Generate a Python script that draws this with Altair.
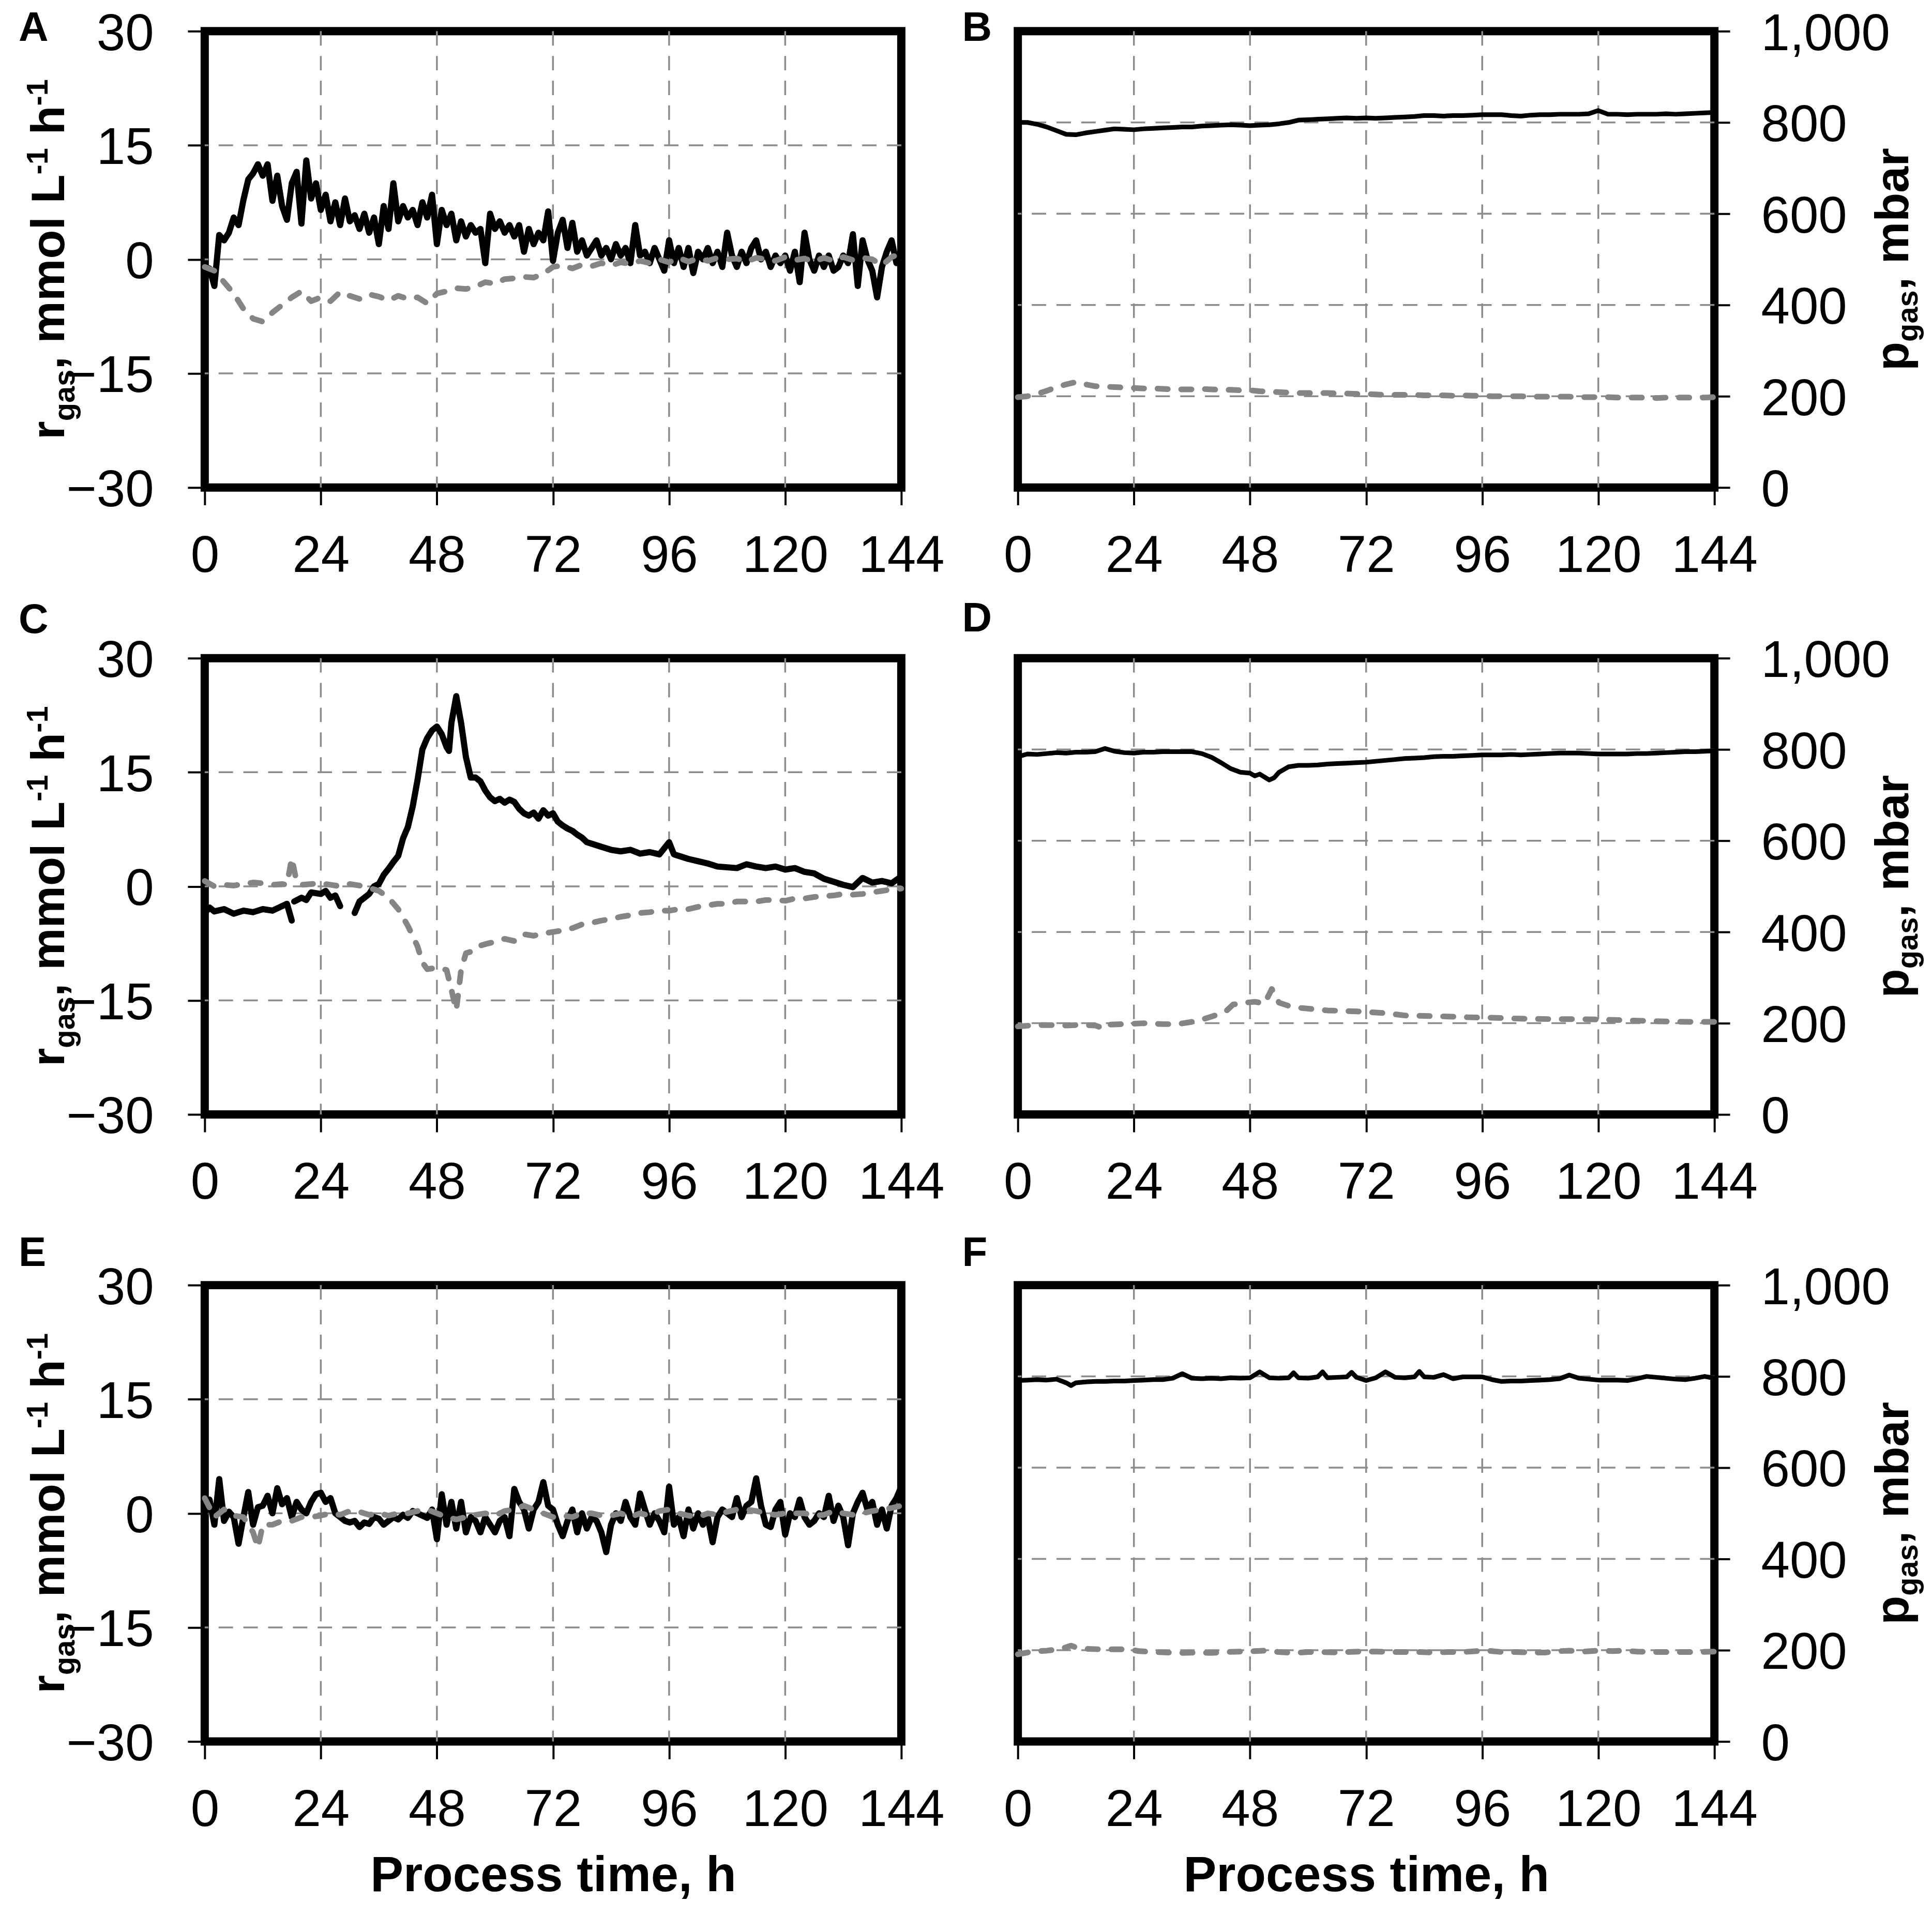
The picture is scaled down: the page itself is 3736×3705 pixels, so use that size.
import altair as alt
import pandas as pd

# ---------------- data ----------------
T1 = list(range(0, 145))          # 1 h spacing
T2 = list(range(0, 145, 2))       # 2 h spacing

XTICKS = [0, 24, 48, 72, 96, 120, 144]
XGRID = [24, 48, 72, 96, 120]
R_TICKS = [-30, -15, 0, 15, 30]
R_GRID = [-15, 0, 15]
P_TICKS = [0, 200, 400, 600, 800, 1000]
P_GRID = [200, 400, 600, 800]

# Panel A  (r_gas, mmol L-1 h-1)
A_BLACK = [-1.0, -1.2, -3.5, 3.2, 2.5, 3.5, 5.5, 4.5, 7.8, 10.5,
           11.3, 12.5, 11.0, 12.5, 7.7, 11.0, 7.0, 5.2, 10.0, 11.5,
           4.7, 13.0, 8.0, 10.0, 6.5, 8.5, 5.0, 7.5, 4.5, 8.0,
           5.0, 5.8, 4.0, 6.0, 3.5, 5.5, 2.0, 7.0, 4.0, 10.0,
           5.0, 7.0, 5.5, 6.5, 4.5, 7.5, 5.5, 8.5, 2.0, 6.5,
           4.5, 6.0, 2.5, 5.0, 3.0, 4.5, 3.5, 4.0, -0.5, 6.0,
           4.0, 5.0, 3.5, 4.5, 3.0, 4.5, 1.0, 4.0, 2.0, 3.5,
           2.5, 6.3, -0.2, 3.5, 5.2, 1.5, 4.8, 1.0, 2.5, 0.5,
           1.5, 2.5, 0.5, 1.5, 0.0, 2.0, 0.5, 1.5, -0.5, 4.5,
           0.5, 1.0, -0.5, 1.5, 0.0, -1.5, 2.5, -0.5, 1.5, -1.0,
           1.5, -1.8, 1.0, 0.0, 1.5, -0.5, 1.0, -1.0, 3.5, 0.5,
           -1.0, 1.0, -0.5, 1.5, 2.5, 0.0, 1.0, -1.0, 0.5, -0.5,
           0.5, -1.5, 1.0, -3.0, 3.5, 0.0, -1.5, 0.5, -1.0, 0.5,
           -1.5, -1.0, 0.5, -0.5, 3.3, -3.5, 2.5, 0.0, -1.5, -5.0,
           -1.0, 1.0, 2.5, -0.5, 1.0]
A_GRAY = [-1.0, -1.5, -3.0, -4.5, -6.5, -7.8, -8.2, -7.0, -6.0, -5.0,
          -4.2, -5.5, -5.0, -5.5, -4.3, -4.8, -5.2, -4.6, -4.9, -5.4,
          -4.8, -5.2, -5.0, -5.8, -4.5, -4.2, -3.8, -3.9, -3.6, -3.0,
          -3.2, -2.6, -2.5, -2.3, -2.4, -1.9, -1.0, -0.8, -1.2, -0.7,
          -0.9, -0.5, -0.8, -0.4, -0.6, -0.2, -0.5, 0.0, -0.4, 0.2,
          -0.3, 0.1, -0.2, 0.2, 0.0, 0.1, -0.3, 0.2, 0.0, -0.2,
          0.3, -0.1, 0.1, -0.3, 0.2, -0.2, 0.3, -0.1, 0.2, 0.0,
          -0.8, 0.3, 0.8]

# Panel C
C_BLACK_T = [0, 1, 2, 4, 6, 8, 10, 12, 14, 16, 17, 18,
             18.5, 20, 21, 22, 24, 25, 26, 27, 28,
             31, 32, 33, 34, 35, 36, 37, 38, 39, 40, 41, 42, 43, 44, 45, 46, 47, 48, 49,
             50, 50.5, 51, 52, 53, 54, 55, 56, 57, 58, 59, 60, 61, 62, 63, 64, 65, 66,
             67, 68, 69, 70, 71, 72, 73, 74, 75, 76, 77, 78, 79, 80, 82, 84, 86, 88,
             90, 92, 94, 96, 97, 98, 100, 102, 104, 106, 108, 110, 112, 114, 116, 118,
             120, 122, 124, 126, 128, 130, 132, 134, 136, 138, 140, 142, 144]
C_BLACK = [-3.5, -2.8, -3.3, -3.0, -3.6, -3.2, -3.4, -3.0, -3.2, -2.6, -2.3, -4.5,
           -2.0, -1.5, -1.8, -0.8, -1.0, -0.6, -1.5, -1.2, -2.6,
           -3.5, -2.0, -1.5, -1.0, 0.0, 0.3, 1.5, 2.3, 3.2, 4.0, 6.3, 7.8, 10.5, 14.0, 18.0, 19.5, 20.5, 21.0, 20.0,
           18.3, 17.8, 21.5, 25.0, 21.5, 17.0, 14.3, 14.3, 13.8, 12.6, 11.7, 11.2, 11.5, 11.0, 11.4, 11.1, 10.2, 9.6,
           9.3, 9.7, 8.9, 10.0, 9.3, 9.6, 8.5, 8.0, 7.6, 7.3, 6.8, 6.4, 5.8, 5.6, 5.2, 4.8, 4.6, 4.8,
           4.3, 4.5, 4.2, 5.8, 4.2, 4.0, 3.6, 3.3, 3.0, 2.6, 2.5, 2.4, 2.9, 2.6, 2.4, 2.6,
           2.2, 2.4, 1.9, 1.7, 1.0, 0.6, 0.2, -0.1, 1.1, 0.5, 0.7, 0.4, 1.3]
C_BLACK_SEG = [0] * 12 + [1] * 9 + [2] * 84
C_GRAY_T = [0, 2, 4, 6, 8, 10, 12, 14, 16, 17, 18, 19, 20, 22, 24, 26, 28, 30, 32, 34,
            36, 38, 40, 42, 44, 45, 46, 48, 50, 51, 52, 53, 54, 56, 57, 58, 60, 62, 64, 66,
            68, 70, 72, 74, 76, 78, 80, 82, 84, 86, 88, 90, 92, 94, 96, 98, 100, 102, 104, 106,
            108, 110, 112, 114, 116, 118, 120, 122, 124, 126, 128, 130, 132, 134, 136, 138, 140, 142, 144]
C_GRAY = [0.7, 0.0, 0.2, 0.1, 0.3, 0.5, 0.4, 0.2, 0.3, 0.2, 3.7, 0.6, 0.2, 0.3, 0.4, 0.2, 0.0, 0.3, 0.1, -0.2,
          -0.6, -1.5, -3.0, -5.2, -7.9, -10.0, -10.9, -10.7, -11.0, -13.6, -16.3, -11.0, -8.8, -8.4, -7.8, -7.6, -7.3, -6.9, -7.2, -6.3,
          -6.5, -6.2, -6.0, -5.8, -5.5, -5.0, -4.8, -4.5, -4.3, -4.0, -3.8, -3.5, -3.4, -3.2, -3.2, -3.0, -3.0, -2.7, -2.5, -2.3,
          -2.3, -2.0, -2.0, -2.0, -1.8, -1.8, -1.9, -1.6, -1.6, -1.4, -1.3, -1.2, -1.0, -1.1, -1.0, -0.8, -0.6, -0.4, -0.3]

# Panel E
E_BLACK = [0.0, 1.8, -1.5, 4.5, -1.0, 0.2, -0.5, -4.0, -0.5, 2.8,
           -1.5, 0.8, 1.0, 2.3, 0.0, 3.3, 1.2, 2.0, -0.5, 1.5,
           0.5, 0.0, 1.5, 2.5, 2.7, 1.5, 2.0, 0.0, -0.5, -1.0,
           -1.2, -1.0, -1.8, -1.2, -1.4, -0.5, -0.7, -1.5, -1.0, -0.5,
           -0.8, -0.2, -0.6, 0.3, 0.0, -0.3, -0.6, 0.5, -3.4, 2.5,
           -1.5, 1.5, -2.0, 1.5, -2.5, -0.5, -1.0, -2.5, -0.5, -1.5,
           -2.5, -1.0, -0.5, -3.0, 3.2, 1.5, 0.5, -2.0, 0.5, 1.5,
           4.1, 1.0, 0.5, -1.5, -3.0, -1.0, 0.5, -2.5, 0.0, -2.0,
           -0.5, -1.0, -2.5, -5.1, -1.5, 0.0, -1.0, 1.5, -0.5, -1.5,
           2.6, 0.5, -1.5, 0.0, -1.0, -2.5, 3.5, -1.5, -0.5, -3.0,
           0.5, -2.0, 0.0, -1.5, -0.5, -3.8, -0.5, 0.5, 0.0, -0.5,
           2.0, -0.5, 1.0, 1.5, 4.6, 1.0, -1.5, -1.8, 0.5, 1.5,
           -2.8, 0.0, -0.5, 1.8, -0.5, -1.5, -1.0, 0.0, -0.5, 2.3,
           -1.0, 1.0, -0.5, -4.2, 0.0, 1.5, 2.7, 0.5, 1.5, -1.5,
           0.5, -2.0, 1.0, 2.0, 3.5]
E_GRAY_T = [0, 2, 4, 6, 8, 10, 11, 12, 14, 16, 18, 20, 22, 24, 26, 28, 30, 32, 34, 36,
            38, 40, 42, 44, 46, 48, 50, 52, 54, 56, 58, 60, 62, 64, 66, 68, 70, 72, 74, 76,
            78, 80, 82, 84, 86, 88, 90, 92, 94, 96, 98, 100, 102, 104, 106, 108, 110, 112, 114, 116,
            118, 120, 122, 124, 126, 128, 130, 132, 134, 136, 138, 140, 142, 144]
E_GRAY = [2.0, -0.5, 0.5, -0.3, -0.5, -2.5, -4.5, -1.5, -1.5, -1.0, -1.0, -0.5, -0.5, -0.3, 0.0, -0.2, 0.3, 0.2, -0.2, 0.0,
          -0.3, 0.0, 0.0, 0.3, 0.5, 0.0, -0.5, -0.8, -0.5, -0.2, 0.0, -0.3, 0.3, 0.5, 1.0, 0.5, 0.0, -0.5, -0.3, -0.5,
          0.0, 0.0, -0.3, -0.3, 0.0, -0.5, 0.0, -0.3, 0.3, 0.5, 0.0, -0.3, -0.5, 0.0, -0.2, 0.2, 0.5, 0.5, 0.3, 0.0,
          -0.2, 0.0, 0.0, 0.0, -0.3, -0.2, 0.3, 0.0, -0.2, 0.0, 0.3, 0.5, 0.7, 1.0]

# Panel B  (p_gas, mbar)
B_BLACK = [800, 800, 796, 790, 782, 774, 773, 777, 780, 783,
           786, 785, 784, 786, 787, 788, 789, 790, 790, 792,
           793, 794, 795, 794, 793, 794, 795, 797, 800, 805,
           806, 807, 808, 809, 810, 809, 810, 809, 810, 811,
           812, 813, 815, 815, 814, 815, 815, 816, 817, 817,
           817, 815, 814, 816, 817, 817, 818, 818, 818, 819,
           826, 818, 818, 817, 818, 818, 818, 819, 818, 819,
           820, 821, 822]
B_GRAY = [198, 200, 205, 212, 220, 226, 231, 226, 222, 221,
          220, 219, 218, 217, 217, 216, 215, 215, 215, 216,
          215, 214, 214, 213, 213, 211, 210, 209, 208, 207,
          207, 207, 207, 206, 206, 205, 205, 204, 203, 203,
          203, 203, 202, 202, 202, 201, 202, 201, 201, 200,
          200, 200, 200, 199, 199, 199, 199, 199, 198, 198,
          198, 198, 197, 197, 197, 197, 196, 197, 197, 197,
          197, 197, 198]

# Panel D
D_BLACK_T = [0, 2, 4, 6, 8, 10, 12, 14, 16, 18, 20, 22, 24, 26, 28, 30, 32, 34, 36, 38,
             40, 42, 44, 46, 48, 49, 50, 52, 53, 54, 56, 58, 60, 62, 64, 66, 68, 70, 72, 74,
             76, 78, 80, 82, 84, 86, 88, 90, 92, 94, 96, 98, 100, 102, 104, 106, 108, 110, 112, 114,
             116, 118, 120, 122, 124, 126, 128, 130, 132, 134, 136, 138, 140, 142, 144]
D_BLACK = [784, 790, 789, 791, 793, 792, 794, 794, 795, 802, 796, 793, 792, 794, 794, 795, 795, 795, 795, 791,
           783, 771, 758, 750, 748, 742, 746, 733, 738, 750, 762, 765, 765, 766, 768, 769, 770, 771, 772, 774,
           776, 778, 780, 781, 782, 784, 785, 785, 786, 787, 788, 788, 788, 789, 788, 789, 790, 791, 792, 792,
           792, 791, 790, 790, 790, 790, 791, 791, 792, 793, 794, 795, 795, 796, 797]
D_GRAY_T = [0, 4, 7, 10, 12, 14, 16, 18, 19, 22, 26, 30, 33, 36, 39, 41, 43, 44.5, 47, 49,
            51, 52.5, 54, 56, 58, 61, 64, 67, 70, 73, 76, 80, 84, 88, 93, 98, 104, 110, 115, 121,
            127, 133, 139, 144]
D_GRAY = [193, 196, 196, 195, 196, 196, 195, 188, 197, 198, 200, 198, 198, 203, 211, 218, 226, 241, 245, 247,
          243, 275, 245, 238, 234, 231, 228, 227, 226, 224, 222, 217, 216, 215, 213, 212, 210, 209, 209, 208,
          206, 204, 203, 203]

# Panel F
F_BLACK_T = [0, 2, 4, 6, 8, 10, 11, 12, 14, 16, 18, 20, 22, 24, 26, 28, 30, 32, 34, 36,
             38, 40, 42, 44, 46, 48, 50, 52, 54, 56, 57, 58, 60, 62, 63, 64, 66, 68, 69, 70,
             72, 74, 76, 78, 80, 82, 83, 84, 86, 88, 90, 92, 94, 96, 98, 100, 102, 104, 106, 108,
             110, 112, 114, 116, 118, 120, 122, 124, 126, 128, 130, 132, 134, 136, 138, 140, 142, 144]
F_BLACK = [791, 792, 793, 792, 794, 786, 780, 786, 788, 789, 789, 790, 790, 791, 792, 793, 793, 796, 806, 796,
           795, 796, 795, 797, 796, 797, 810, 797, 796, 797, 808, 797, 796, 799, 810, 797, 798, 799, 809, 798,
           791, 797, 810, 798, 797, 799, 811, 799, 798, 804, 795, 799, 799, 799, 793, 789, 790, 790, 791, 792,
           793, 795, 803, 796, 794, 792, 792, 792, 791, 795, 800, 798, 796, 794, 793, 796, 800, 796]
F_GRAY_T = [0, 3, 6, 9, 11, 12, 14, 17, 20, 23, 25, 28, 31, 34, 37, 40, 43, 46, 49, 51,
            54, 57, 60, 63, 66, 68, 71, 74, 77, 80, 83, 86, 89, 92, 95, 97, 100, 103, 106, 109,
            112, 114, 117, 120, 123, 125, 128, 131, 134, 137, 140, 144]
F_GRAY = [191, 197, 199, 203, 210, 206, 203, 202, 202, 202, 198, 196, 195, 194, 195, 194, 196, 197, 198, 199,
          196, 194, 196, 196, 195, 196, 197, 197, 196, 196, 196, 195, 196, 196, 198, 199, 196, 196, 195, 195,
          198, 199, 197, 199, 198, 199, 197, 196, 196, 196, 196, 197]

# ---------------- style ----------------
W, H = 1351, 885
FONT = "Liberation Sans"
GRID_C = "#8c8c8c"
LINE_GRAY = "#858585"
FS_TICK = 100
FS_TITLE = 92
FS_SMALL = 58
DUMMY = pd.DataFrame({"k": [0]})

# Liberation Sans Bold advance widths (em)
ADV = {"r": .389, "g": .611, "a": .556, "s": .556, ",": .278, " ": .278, "m": .889,
       "o": .611, "l": .278, "L": .611, "h": .611, "-": .333, "1": .556, "p": .611, "b": .611}


def tw(s, fs):
    return sum(ADV[c] for c in s) * fs


def x_enc(field, title):
    return alt.X(field, type="quantitative",
                 scale=alt.Scale(domain=[0, 144], nice=False, zero=False),
                 axis=alt.Axis(values=XTICKS, title=title, grid=False, domain=False,
                               tickSize=34, tickWidth=4, tickColor="black",
                               labelFont=FONT, labelFontSize=FS_TICK, labelColor="black",
                               labelPadding=50, labelFlush=False, labelOverlap=False,
                               labelLimit=1000,
                               titleFont=FONT, titleFontSize=96, titleFontWeight="bold",
                               titleColor="black", titleY=290, titleBaseline="alphabetic",
                               titleLimit=2000))


def y_enc(field, left):
    if left:
        return alt.Y(field, type="quantitative",
                     scale=alt.Scale(domain=[-30, 30], nice=False, zero=False),
                     axis=alt.Axis(values=R_TICKS, title=None, grid=False, domain=False,
                                   tickSize=33, tickWidth=4, tickColor="black",
                                   labelFont=FONT, labelFontSize=FS_TICK, labelColor="black",
                                   labelPadding=66, labelFlush=False, labelOverlap=False,
                                   labelLimit=1000, labelOffset=6))
    return alt.Y(field, type="quantitative",
                 scale=alt.Scale(domain=[0, 1000], nice=False, zero=False),
                 axis=alt.Axis(values=P_TICKS, title=None, grid=False, domain=False, orient="right",
                               format=",d", tickSize=30, tickWidth=4, tickColor="black",
                               labelFont=FONT, labelFontSize=FS_TICK, labelColor="black",
                               labelPadding=60, labelFlush=False, labelOverlap=False,
                               labelLimit=1000, labelOffset=6))


def txt(s, x, y, fs, angle=0):
    return alt.Chart(DUMMY).mark_text(
        text=s, font=FONT, fontSize=fs, fontWeight="bold", angle=angle,
        align="left", baseline="alphabetic", color="black", limit=0
    ).encode(x=alt.value(x), y=alt.value(y))


def left_title():
    base = -273
    total = tw("r", FS_TITLE) + tw("gas", FS_SMALL) + tw(", mmol L h", FS_TITLE) + 2 * tw("-1", FS_SMALL)
    y = H / 2 + total / 2
    out = [txt("r", base, y, FS_TITLE, 270)]
    y -= tw("r", FS_TITLE)
    out.append(txt("gas", base + 20, y, FS_SMALL, 270))
    y -= tw("gas", FS_SMALL)
    out.append(txt(", mmol L", base, y, FS_TITLE, 270))
    y -= tw(", mmol L", FS_TITLE)
    out.append(txt("-1", base - 32, y, FS_SMALL, 270))
    y -= tw("-1", FS_SMALL) + tw(" ", FS_TITLE)
    out.append(txt("h", base, y, FS_TITLE, 270))
    y -= tw("h", FS_TITLE)
    out.append(txt("-1", base - 32, y, FS_SMALL, 270))
    return out


def right_title():
    base = W + 376
    total = tw("p", FS_TITLE) + tw("gas", FS_SMALL) + tw(", mbar", FS_TITLE)
    y = H / 2 + total / 2
    out = [txt("p", base, y, FS_TITLE, 270)]
    y -= tw("p", FS_TITLE)
    out.append(txt("gas", base + 18, y, FS_SMALL, 270))
    y -= tw("gas", FS_SMALL)
    out.append(txt(", mbar", base, y, FS_TITLE, 270))
    return out


def panel(bt, bv, gt, gv, left, letter, letter_y, xtitle, bseg=None):
    if bseg is None:
        bseg = [0] * len(bt)
    df_b = pd.DataFrame({"t": bt, "v": bv, "seg": bseg})
    df_g = pd.DataFrame({"t": gt, "v": gv})
    yg = R_GRID if left else P_GRID
    vgrid = alt.Chart(pd.DataFrame({"gx": XGRID})).mark_rule(
        color=GRID_C, strokeWidth=3.5, strokeDash=[28, 20]
    ).encode(x=x_enc("gx", xtitle))
    hgrid = alt.Chart(pd.DataFrame({"gy": yg})).mark_rule(
        color=GRID_C, strokeWidth=3.5, strokeDash=[28, 20]
    ).encode(y=y_enc("gy", left))
    bw = 12 if left else 9
    black = alt.Chart(df_b).mark_line(
        color="black", strokeWidth=bw, strokeJoin="round", strokeCap="round"
    ).encode(x=x_enc("t", xtitle), y=y_enc("v", left), detail="seg:N")
    gray = alt.Chart(df_g).mark_line(
        color=LINE_GRAY, strokeWidth=11, strokeDash=[20, 26], strokeCap="round", strokeJoin="round"
    ).encode(x=x_enc("t", xtitle), y=y_enc("v", left))
    lx = -361 if left else -108
    layers = [vgrid, hgrid, black, gray, txt(letter, lx, letter_y, 80)]
    layers += left_title() if left else right_title()
    return alt.layer(*layers).properties(width=W, height=H)


pA = panel(T1, A_BLACK, T2, A_GRAY, True, "A", 19, None)
pB = panel(T2, B_BLACK, T2, B_GRAY, False, "B", 19, None)
pC = panel(C_BLACK_T, C_BLACK, C_GRAY_T, C_GRAY, True, "C", -49, None, C_BLACK_SEG)
pD = panel(D_BLACK_T, D_BLACK, D_GRAY_T, D_GRAY, False, "D", -52, None)
pE = panel(T1, E_BLACK, E_GRAY_T, E_GRAY, True, "E", -37, "Process time, h")
pF = panel(F_BLACK_T, F_BLACK, F_GRAY_T, F_GRAY, False, "F", -37, "Process time, h")

chart = alt.concat(
    pA, pB, pC, pD, pE, pF,
    columns=2,
    spacing={"row": 331, "column": 226},
    bounds="flush",
).properties(
    padding={"left": 20, "top": -6, "right": 0, "bottom": 0}
).configure_view(
    stroke="black", strokeWidth=16
)

chart.save("out.html", embed_options={"renderer": "svg", "actions": False})
